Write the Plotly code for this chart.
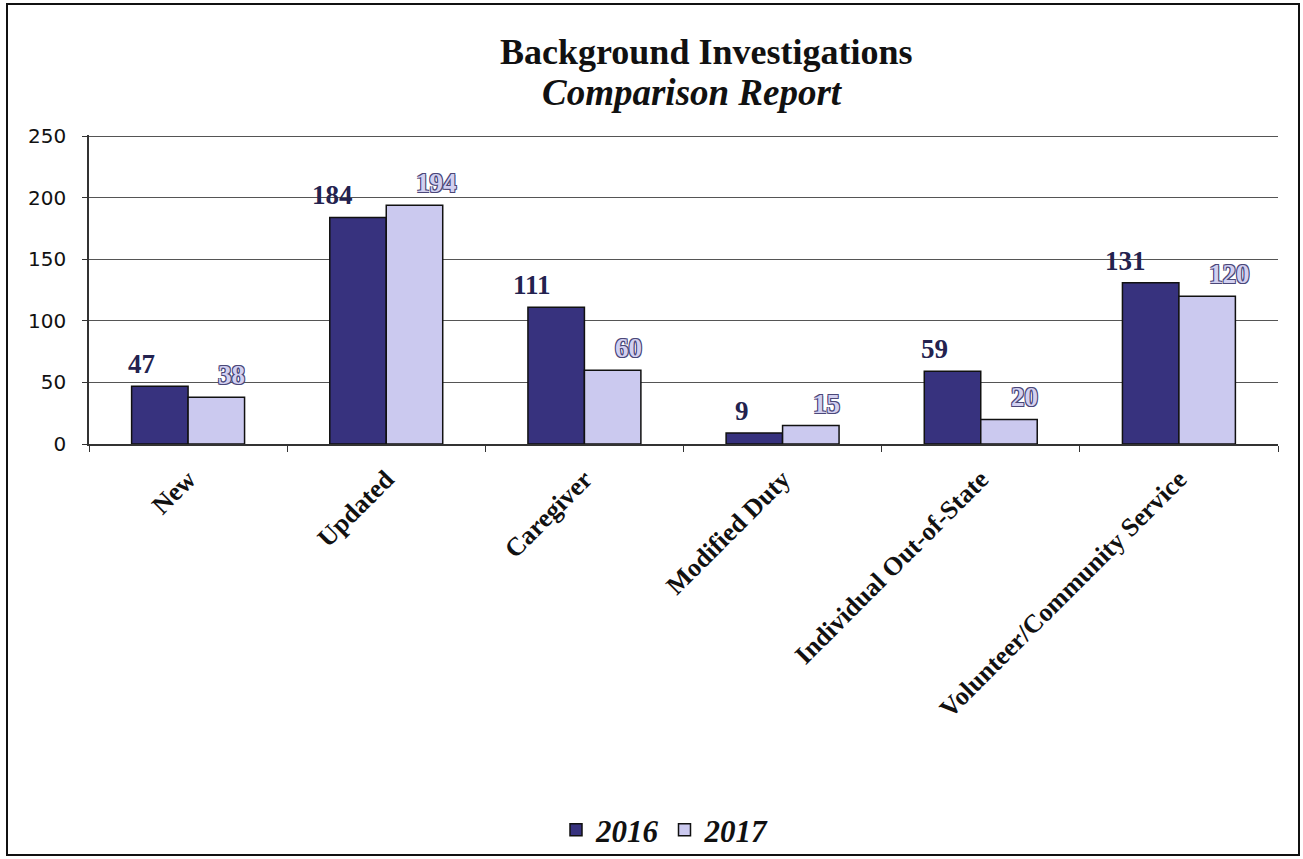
import plotly.graph_objects as go

categories = ["New", "Updated", "Caregiver", "Modified Duty", "Individual Out-of-State", "Volunteer/Community Service"]
values_2016 = [47, 184, 111, 9, 59, 131]
values_2017 = [38, 194, 60, 15, 20, 120]
series_names = ["2016", "2017"]
y_ticks = [0, 50, 100, 150, 200, 250]
title_line1 = "Background Investigations"
title_line2 = "Comparison Report"

W, H = 1303, 859
L, R, T, B = 89, 25, 135, 415
pw, ph = W - L - R, H - T - B
BARGAP = 0.43
half_bar_px = pw / len(categories) * (1 - BARGAP) / 4


def py(p):
    return (T + ph - p) / ph


def px(p):
    return (p - L) / pw


serif = "Liberation Serif"
outline = "#4a4778"

fig = go.Figure()
fig.add_trace(go.Bar(
    x=categories, y=values_2016, name=series_names[0],
    marker=dict(color="#37327e", line=dict(color="#111111", width=1.5)),
))
fig.add_trace(go.Bar(
    x=categories, y=values_2017, name=series_names[1],
    marker=dict(color="#cbc9ef", line=dict(color="#111111", width=1.5)),
))

for c, v in zip(categories, values_2016):
    fig.add_annotation(x=c, y=v, text=str(v), showarrow=False, xanchor="right", yanchor="bottom",
                       xshift=-half_bar_px - 3, yshift=5,
                       font=dict(family=serif, size=27, color="#23224f", weight="bold"))
for c, v in zip(categories, values_2017):
    fig.add_annotation(x=c, y=v, text=str(v), showarrow=False, xanchor="left", yanchor="bottom",
                       xshift=half_bar_px, yshift=5,
                       font=dict(family=serif, size=27, color="#d2d0f0", weight="bold",
                                 shadow=f"-1px -1px 0 {outline}, 1px -1px 0 {outline}, -1px 1px 0 {outline}, 1px 1px 0 {outline}"))

fig.add_annotation(xref="paper", yref="paper", x=px(706), y=py(52), text=f"<b>{title_line1}</b>",
                   showarrow=False, xanchor="center", yanchor="middle",
                   font=dict(family=serif, size=36, color="#111111"))
fig.add_annotation(xref="paper", yref="paper", x=px(692), y=py(92), text=f"<b><i>{title_line2}</i></b>",
                   showarrow=False, xanchor="center", yanchor="middle",
                   font=dict(family=serif, size=37, color="#111111"))

fig.update_layout(
    width=W, height=H,
    margin=dict(l=L, r=R, t=T, b=B, autoexpand=False),
    paper_bgcolor="white", plot_bgcolor="white",
    barmode="group", bargap=BARGAP, bargroupgap=0.0,
    showlegend=True,
    legend=dict(orientation="h", x=px(665), xanchor="center", y=py(830), yanchor="middle",
                bgcolor="rgba(0,0,0,0)",
                font=dict(family=serif, size=31, color="#111111", weight="bold", style="italic"),
                itemwidth=30, traceorder="normal"),
)

fig.update_yaxes(
    range=[0, 251], tickvals=y_ticks, showgrid=True, gridcolor="#555555", gridwidth=1.3,
    showline=True, linecolor="#333333", linewidth=1.5, ticks="outside", ticklen=5,
    tickcolor="#333333", ticklabelstandoff=12,
    tickfont=dict(family="DejaVu Sans", size=20, color="#111111"),
    zeroline=False,
)
fig.update_xaxes(
    tickangle=-45, showline=True, linecolor="#333333", linewidth=1.5,
    ticks="outside", tickson="boundaries", ticklen=6, tickcolor="#333333",
    ticklabelstandoff=8,
    tickfont=dict(family=serif, size=26, color="#111111", weight="bold"),
)

# outer border
fig.add_shape(type="rect", xref="paper", yref="paper",
              x0=px(7), x1=px(1299), y0=py(855), y1=py(4),
              line=dict(color="#111111", width=2), layer="above")

fig.write_html("out.html")
